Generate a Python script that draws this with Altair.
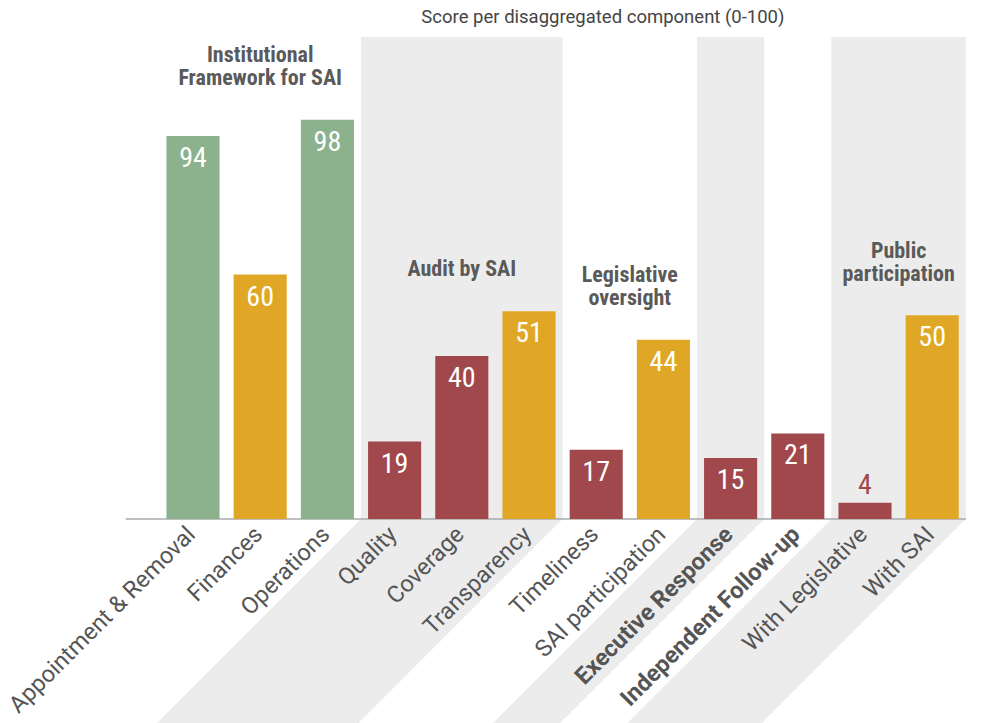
import altair as alt
import pandas as pd

# ---------------- data ----------------
categories = ["Appointment & Removal", "Finances", "Operations", "Quality", "Coverage",
              "Transparency", "Timeliness", "SAI participation", "Executive Response",
              "Independent Follow-up", "With Legislative", "With SAI"]
scores = [94, 60, 98, 19, 40, 51, 17, 44, 15, 21, 4, 50]
bar_colors = ["#8cb28d", "#e0a726", "#8cb28d", "#a0484b", "#a0484b", "#e0a726",
              "#a0484b", "#e0a726", "#a0484b", "#a0484b", "#a0484b", "#e0a726"]
bold_labels = [False, False, False, False, False, False, False, False, True, True, False, False]

group_names = ["Institutional\nFramework for SAI", "Audit by SAI", "Legislative\noversight",
               "", "", "Public\nparticipation"]
group_members = [[0, 1, 2], [3, 4, 5], [6, 7], [8], [9], [10, 11]]
group_shaded = [False, True, False, True, False, True]

title_text = "Score per disaggregated component (0-100)"

# ---------------- layout ----------------
W, H = 988, 723
STEP = 67.2          # px per category
X0 = 193             # px of first category centre
BASE = 519           # px of value 0
PPU = 4.075          # px per score unit
BAR_W = 0.79         # bar width in category steps
BAND_TOP = 118.3     # top of grey bands (score units)
GRP_LINE = 23        # line height of group titles (px)

x_dom = [-X0 / STEP, (W - X0) / STEP]
y_dom = [-(H - BASE) / PPU, BASE / PPU]
xs = alt.Scale(domain=x_dom, nice=False, zero=False)
ys = alt.Scale(domain=y_dom, nice=False, zero=False)

FONT = "Roboto"
COND = "Roboto Condensed, Liberation Sans Narrow, Roboto"

# bars table
bars = pd.DataFrame({
    "idx": list(range(len(categories))),
    "category": categories,
    "score": scores,
    "color": bar_colors,
    "bold": bold_labels,
})
bars["x1"] = bars["idx"] - BAR_W / 2
bars["x2"] = bars["idx"] + BAR_W / 2
bars["zero"] = 0
bars["inside"] = bars["score"] >= 10
bars["label_y"] = -12 / PPU
bars["label_x"] = bars["idx"] - 0.02

# grey slanted bands
shift = (H - BASE) / STEP  # 45 degree slant down to the bottom edge
band_rows = []
for g, (mem, sh) in enumerate(zip(group_members, group_shaded)):
    if not sh:
        continue
    a, b = min(mem) - 0.5, max(mem) + 0.5
    band_rows += [
        {"band": g, "y": BAND_TOP, "xl": a, "xr": b},
        {"band": g, "y": 0, "xl": a, "xr": b},
        {"band": g, "y": y_dom[0], "xl": a - shift, "xr": b - shift},
    ]
bands = pd.DataFrame(band_rows)

# group titles
grp_rows = []
for name, mem in zip(group_names, group_members):
    if not name:
        continue
    nlines = name.count("\n") + 1
    grp_rows.append({"name": name,
                     "x": (min(mem) + max(mem)) / 2,
                     "y": max(scores[i] for i in mem) + 7.3 + (nlines - 1) * GRP_LINE / PPU})
groups = pd.DataFrame(grp_rows)

axis_df = pd.DataFrame({"x": [-1.0], "x2": [max(group_members[-1]) + 0.5], "y": [0]})
title_df = pd.DataFrame({"t": [title_text], "x": [6.1], "y": [(BASE - 17) / PPU]})

# ---------------- layers ----------------
band_layer = alt.Chart(bands).mark_area(orient="horizontal", color="#ececec").encode(
    y=alt.Y("y:Q", scale=ys, axis=None),
    x=alt.X("xl:Q", scale=xs, axis=None),
    x2="xr:Q",
    detail="band:N",
)

axis_layer = alt.Chart(axis_df).mark_rule(color="#aaaaaa", strokeWidth=1.5).encode(
    x=alt.X("x:Q", scale=xs, axis=None), x2="x2:Q", y=alt.Y("y:Q", scale=ys, axis=None)
)

bar_layer = alt.Chart(bars).mark_bar().encode(
    x=alt.X("x1:Q", scale=xs, axis=None), x2="x2:Q",
    y=alt.Y("score:Q", scale=ys, axis=None), y2="zero:Q",
    color=alt.Color("color:N", scale=None),
)

val_in = alt.Chart(bars).transform_filter("datum.inside").mark_text(
    font=COND, fontSize=28, color="white", baseline="top", dy=9
).encode(
    x=alt.X("idx:Q", scale=xs, axis=None), y=alt.Y("score:Q", scale=ys, axis=None),
    text="score:Q",
)
val_out = alt.Chart(bars).transform_filter("!datum.inside").mark_text(
    font=COND, fontSize=28, color="#a0484b", baseline="bottom", dy=-3
).encode(
    x=alt.X("idx:Q", scale=xs, axis=None), y=alt.Y("score:Q", scale=ys, axis=None),
    text="score:Q",
)

grp_layer = alt.Chart(groups).mark_text(
    font=COND, fontSize=22, fontWeight="bold", color="#5a5a5a",
    baseline="bottom", lineBreak="\n", lineHeight=GRP_LINE
).encode(
    x=alt.X("x:Q", scale=xs, axis=None), y=alt.Y("y:Q", scale=ys, axis=None), text="name:N"
)

cat_norm = alt.Chart(bars).transform_filter("!datum.bold").mark_text(
    font=FONT, fontSize=23.5, color="#555555", angle=315, align="right", baseline="middle"
).encode(
    x=alt.X("label_x:Q", scale=xs, axis=None), y=alt.Y("label_y:Q", scale=ys, axis=None),
    text="category:N",
)
cat_bold = alt.Chart(bars).transform_filter("datum.bold").mark_text(
    font=FONT, fontSize=23.5, fontWeight="bold", color="#555555", angle=315,
    align="right", baseline="middle"
).encode(
    x=alt.X("label_x:Q", scale=xs, axis=None), y=alt.Y("label_y:Q", scale=ys, axis=None),
    text="category:N",
)

title_layer = alt.Chart(title_df).mark_text(
    font=FONT, fontSize=18.5, color="#444444", baseline="middle"
).encode(
    x=alt.X("x:Q", scale=xs, axis=None), y=alt.Y("y:Q", scale=ys, axis=None), text="t:N"
)

chart = alt.layer(
    band_layer, axis_layer, bar_layer, val_in, val_out, grp_layer, cat_norm, cat_bold, title_layer
).properties(
    width=W, height=H, autosize=alt.AutoSizeParams(type="none"), padding=0,
    background="white",
).configure_view(strokeWidth=0)

chart.save("out.html", embed_options={"renderer": "svg", "actions": False})
